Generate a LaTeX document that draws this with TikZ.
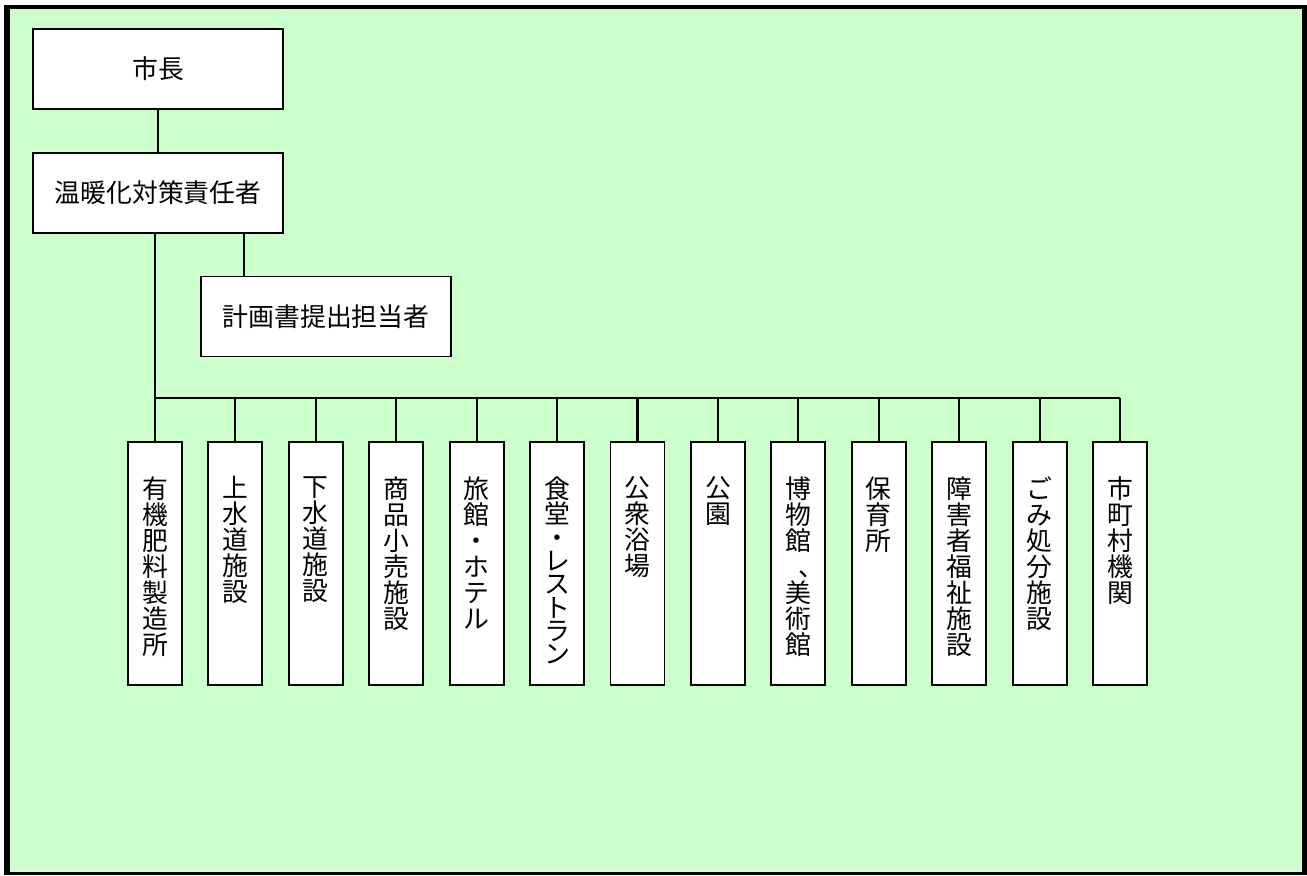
\documentclass[tikz,border=0pt]{standalone}
\usepackage{fontspec}
\usepackage{xcolor}
\usepackage{tikz}
\usetikzlibrary{positioning, calc}
\newfontfamily\jpfont{Noto Sans CJK JP}
\definecolor{bgColor}{RGB}{204,255,204}
\definecolor{frameColor}{RGB}{0,0,0}

\begin{document}
\begin{tikzpicture}[
        x=0.02cm, y=-0.02cm,
        hbox/.style={rectangle, draw, line width=1.1pt, fill=white, minimum width=5.0cm, minimum height=1.6cm, inner sep=0pt, font=\jpfont\fontsize{14.7pt}{14.8pt}\selectfont},
        vbox/.style={rectangle, draw, line width=1.1pt, fill=white, minimum width=1.08cm, minimum height=4.86cm, inner sep=0pt},
        vtext/.style={align=center, inner sep=0pt, font=\jpfont\fontsize{14.7pt}{14.8pt}\selectfont},
        line/.style={line width=1.2pt}
    ]
        % Frame and background
        \useasboundingbox (0,0) rectangle (1307,875);
        \fill[frameColor] (4,5) rectangle (1307,875);
        \fill[bgColor] (10,9) rectangle (1302,872);

        % Mayor
        \node[hbox] (mayor) at (158,69) {市長};

        % Person in charge of warming measures
        \node[hbox, below=0.84cm of mayor] (chief) {温暖化対策責任者};

        % Plan submitter
        \node[hbox] (planner) at (326,316.5) {計画書提出担当者};

        % Facilities
        \node[vbox] (b1) at (155,563.5) {};
        \node[vbox, right=0.49cm of b1] (b2) {};
        \node[vbox, right=0.49cm of b2] (b3) {};
        \node[vbox, right=0.49cm of b3] (b4) {};
        \node[vbox, right=0.49cm of b4] (b5) {};
        \node[vbox, right=0.49cm of b5] (b6) {};
        \node[vbox, right=0.49cm of b6] (b7) {};
        \node[vbox, right=0.49cm of b7] (b8) {};
        \node[vbox, right=0.49cm of b8] (b9) {};
        \node[vbox, right=0.49cm of b9] (b10) {};
        \node[vbox, right=0.49cm of b10] (b11) {};
        \node[vbox, right=0.49cm of b11] (b12) {};
        \node[vbox, right=0.49cm of b12] (b13) {};

        % Facility names (vertical)
        \node[vtext, below=0.70cm of b1.north] (t1) {有\\機\\肥\\料\\製\\造\\所};
        \node[vtext, below=0.70cm of b2.north] (t2) {上\\水\\道\\施\\設};
        \node[vtext, below=0.70cm of b3.north] (t3) {下\\水\\道\\施\\設};
        \node[vtext, below=0.70cm of b4.north] (t4) {商\\品\\小\\売\\施\\設};
        \node[vtext, below=0.70cm of b5.north] (t5) {旅\\館\\・\\ホ\\テ\\ル};
        \node[vtext, below=0.70cm of b6.north, font=\jpfont\fontsize{14.7pt}{13.3pt}\selectfont] (t6) {食\\堂\\・\\レ\\ス\\ト\\ラ\\ン};
        \node[vtext, below=0.70cm of b7.north] (t7) {公\\衆\\浴\\場};
        \node[vtext, below=0.70cm of b8.north] (t8) {公\\園};
        \node[vtext, below=0.70cm of b9.north] (t9) {博\\物\\館\\\makebox[1em][l]{\hspace{0.5em}、}\\美\\術\\館};
        \node[vtext, below=0.70cm of b10.north] (t10) {保\\育\\所};
        \node[vtext, below=0.70cm of b11.north] (t11) {障\\害\\者\\福\\祉\\施\\設};
        \node[vtext, below=0.70cm of b12.north] (t12) {ご\\み\\処\\分\\施\\設};
        \node[vtext, below=0.70cm of b13.north] (t13) {市\\町\\村\\機\\関};

        % Connectors
        \coordinate (bus) at (0,398);
        \coordinate (tap) at ($(planner.north west)+(44,0)$);
        \draw[line] (mayor) -- (chief);
        \draw[line] (tap |- chief.south) -- (tap);
        \draw[line] (b1.north |- chief.south) -- (b1.north);
        \draw[line] (b1.north |- bus) -- (b13.north |- bus);
        \draw[line] (b2.north |- bus) -- (b2.north);
        \draw[line] (b3.north |- bus) -- (b3.north);
        \draw[line] (b4.north |- bus) -- (b4.north);
        \draw[line] (b5.north |- bus) -- (b5.north);
        \draw[line] (b6.north |- bus) -- (b6.north);
        \draw[line] (b7.north |- bus) -- (b7.north);
        \draw[line] (b8.north |- bus) -- (b8.north);
        \draw[line] (b9.north |- bus) -- (b9.north);
        \draw[line] (b10.north |- bus) -- (b10.north);
        \draw[line] (b11.north |- bus) -- (b11.north);
        \draw[line] (b12.north |- bus) -- (b12.north);
        \draw[line] (b13.north |- bus) -- (b13.north);
    \end{tikzpicture}
\end{document}
